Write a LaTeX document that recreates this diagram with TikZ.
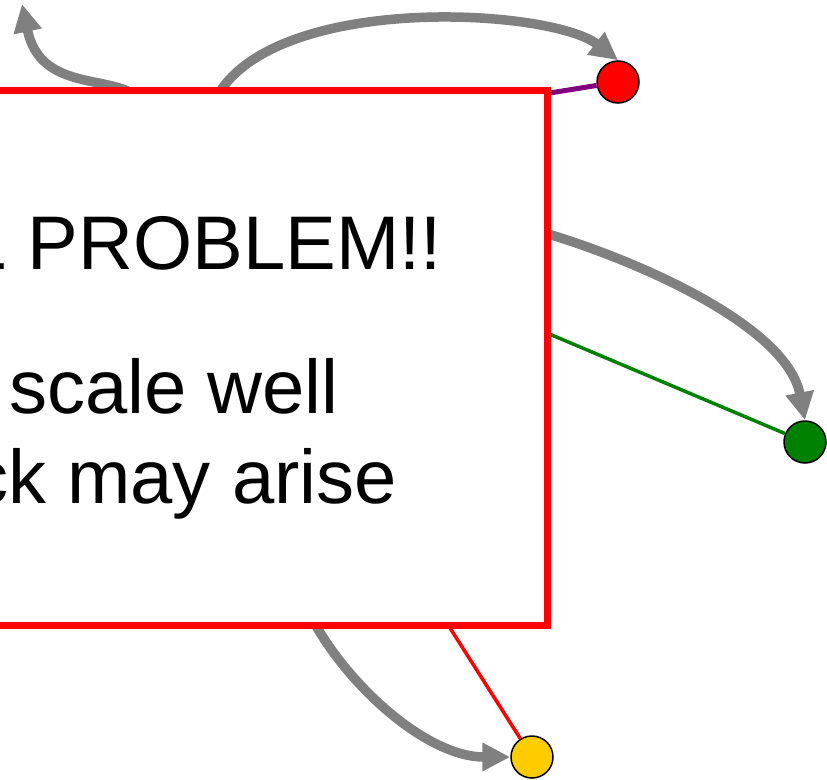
\documentclass[tikz,border=0pt]{standalone}
\usepackage{fontspec}
\setmainfont{Liberation Sans}
\usetikzlibrary{arrows.meta}
\definecolor{peergreen}{RGB}{0,128,0}
\definecolor{peeryellow}{RGB}{255,204,0}
\definecolor{linkpurple}{RGB}{128,0,128}

\begin{document}
\begin{tikzpicture}[
  x=1pt, y=-1pt,
  peer/.style={circle, draw=black, line width=1.5pt, minimum size=42pt, inner sep=0pt},
  flow/.style={line width=9.5pt, gray, -{Triangle[length=28pt, width=27pt]}},
  link/.style={line width=3.5pt},
  panel/.style={rectangle, draw=red, fill=white, line width=7pt, minimum width=647pt, minimum height=535pt, inner sep=0pt},
  msg/.style={font=\fontsize{76}{92}\selectfont, inner sep=0pt, anchor=base east}
]
\useasboundingbox (0,0) rectangle (827,779);
\clip (0,0) rectangle (827,779);

% Peers
\node[peer, fill=red] (pRed) at (618,82) {};
\node[peer, fill=peergreen] (pGreen) at (805,442) {};
\node[peer, fill=peeryellow] (pYellow) at (532,757) {};

% Hidden ends under the panel
\coordinate (srcNW) at (135,95);
\coordinate (outNW) at (22,4);
\coordinate (srcN) at (215,100);
\coordinate (srcE) at (520,226);
\coordinate (srcS) at (305,605);
\coordinate (tapR) at (480,104.3);
\coordinate (tapG) at (480,304.7);
\coordinate (tapY) at (424.6,588);

% Direct links
\draw[link, linkpurple, line width=5pt] (tapR) -- (pRed);
\draw[link, peergreen] (tapG) -- (pGreen);
\draw[link, red] (tapY) -- (pYellow);

% Traffic arrows
\draw[flow] (srcNW) .. controls (105,75) and (40,90) .. (outNW);
\draw[flow] (srcN) .. controls (270,-8) and (550,8) .. (pRed.north);
\draw[flow] (srcE) .. controls (620,252) and (786,322) .. (pGreen.north);
\draw[flow] (srcS) .. controls (340,680) and (425,757) .. (pYellow.west);

% --- Message panel ---
\node[panel] (panel) at (223.5,357.5) {};
\node[msg] (msgA) at (442,269) {L PROBLEM!!};
\node[msg] (msgB) at (339,413) {scale well};
\node[msg] (msgC) at (397,503) {ck may arise};

\end{tikzpicture}
\end{document}
